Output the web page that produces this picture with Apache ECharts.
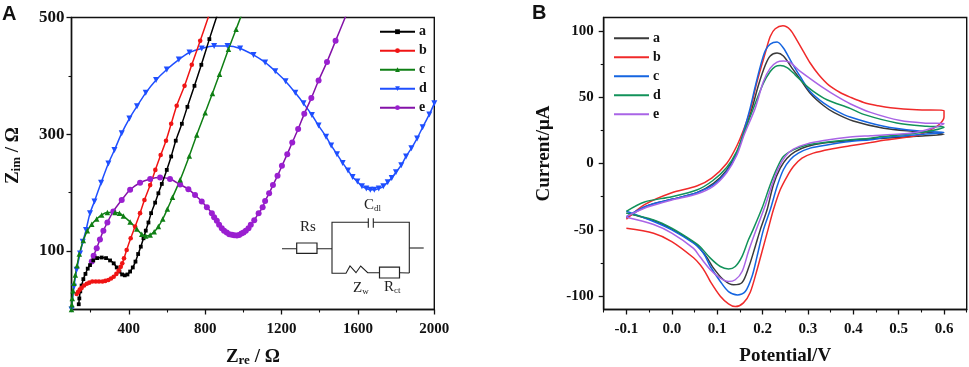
<!DOCTYPE html>
<html><head><meta charset="utf-8">
<style>html,body{margin:0;padding:0;background:#fff}#c{width:969px;height:367px}</style>
<script src="https://cdn.jsdelivr.net/npm/echarts@6/dist/echarts.min.js"></script>
</head><body><div id="c"></div>
<script>
// Panel A: Nyquist curves [Zre, Zim]
const nyqA=[[138,9],[141,19],[146,31],[153,41],[162,52],[173,61],[185,70],[197,76],[214,84],[235,88],[258,89],[281,88],[302,84],[321,79],[337,72],[351,65],[365,60],[379,58.5],[393,60],[407,65],[421,72],[435,82],[449,95],[463,107.6],[477,122],[489,135],[503,149],[517,165],[538,183],[555,199],[573,215],[599,239],[622,262],[646,289],[678,318],[707,347],[744,383],[780,419],[822,463],[862,503]];
const nyqB=[[127,26.6],[134,30],[143,34],[153,37],[166,41],[180,44],[193,46],[209,48],[227,48],[244,48],[262,48],[277,49],[293,50.5],[307,53],[321,56],[335,61],[347,66.5],[358,73],[366,79],[375,87.6],[389,102],[410,122],[433,142],[459,165],[482,187.5],[512,213],[539,239],[567,264.5],[595,289],[622,318],[651,349],[692,383],[730,419],[774,460],[819,503]];
const nyqC=[[100,0],[102,8],[104,19],[108,32],[113,45],[120,59],[129,75],[141,95],[162,118],[183,135],[206,146],[232,155],[258,162],[288,166],[328,166],[351,165],[372,160],[407,150],[442,138],[468,129],[489,126],[512,127.6],[533,133],[555,142],[578,155],[602,172],[629,192],[669,222],[717,263],[756,299],[800,337],[838,370],[875,403],[922,445.5],[962,480],[989,503]];
const nyqD=[[100,0],[113,39],[127,68],[145,96],[159,116],[176,136],[197,165],[220,185],[255,217],[293,250],[325,273],[363,302],[403,327],[443,348],[489,371],[543,393],[599,411],[662,428],[718,440],[782,447],[847,451],[917,451],[983,447],[1053,436],[1114,423],[1167,408],[1221,391],[1272,371],[1315,353],[1359,333],[1394,315],[1433,296],[1460,281],[1490,266],[1520,251],[1548,238],[1572,227],[1597,219],[1621,211],[1644,207],[1665,205],[1686,205],[1709,207],[1733,211],[1756,218],[1777,225],[1799,235],[1827,247],[1852,262],[1880,276],[1910,293],[1939,312],[1974,334],[2000,353]];
const nyqE=[[206,82],[216,92],[232,105],[249,120],[267,135],[288,149],[319,168],[363,187.5],[407,205],[459,217],[512,223.5],[564,226],[616,223.5],[669,214],[712,206],[747,196],[782,185],[809,175],[835,165],[847,158],[861,152],[873,145],[887,139],[899,135],[913,132],[926,129],[940,128],[952,127],[966,126.5],[978,127.5],[990,130],[1001,132],[1013,135],[1027,139],[1039,145],[1057,153],[1080,165],[1101,175],[1114,186],[1135,199],[1155,213],[1179,229],[1202,246],[1230,266],[1256,286],[1287,309],[1319,335],[1356,362],[1394,392],[1438,424],[1483,460],[1537,503]];
// Panel B: cyclic voltammograms [Potential, Current]
const cvA=[[-.1,-41],[-.055,-32],[0,-27],[.055,-22],[.092,-15],[.121,-5],[.143,8],[.16,24],[.177,41.7],[.191,59],[.206,74],[.217,81],[.232,83.2],[.246,81],[.265,71.9],[.283,63.6],[.305,53],[.335,43.5],[.357,38.5],[.4,32],[.467,26.6],[.54,24],[.6,22],[.54,20.5],[.467,19],[.393,17.3],[.335,15.4],[.298,12.8],[.272,9],[.254,4],[.239,-3.5],[.224,-16],[.21,-34.9],[.195,-50],[.184,-62.5],[.169,-78.8],[.155,-89.7],[.136,-91.4],[.114,-87.6],[.092,-78.8],[.077,-70.5],[.0626,-64.5],[.048,-59.5],[0,-49.5],[-.04,-43],[-.1,-37.4]];
const cvB=[[-.1,-42],[-.06,-31],[0,-22],[.055,-17],[.088,-11],[.121,0],[.143,13],[.16,27],[.173,40],[.187,60.5],[.206,83.2],[.217,95.7],[.228,101.5],[.245,103.8],[.261,100.8],[.276,92.7],[.29,84.4],[.305,75.7],[.324,66.8],[.346,59],[.371,53.5],[.393,50],[.423,46],[.455,43.5],[.482,42],[.54,40.5],[.6,40],[.6,35],[.588,29],[.562,24],[.54,21],[.467,17.5],[.438,15.8],[.393,13.3],[.349,10.8],[.312,7.8],[.287,4],[.268,-2.3],[.254,-9.8],[.239,-19.8],[.224,-34.9],[.212,-50],[.202,-62.5],[.188,-80],[.173,-97],[.158,-105],[.14,-107.8],[.125,-105.7],[.107,-100],[.085,-88.9],[.074,-82],[.0626,-76.3],[.048,-71],[0,-58.8],[-.04,-52.5],[-.1,-48.7]];
const cvC=[[-.1,-40],[-.055,-32],[0,-27],[.055,-22],[.092,-16],[.121,-6],[.143,7],[.16,26],[.173,42],[.184,58],[.195,73],[.206,85],[.217,90],[.232,91.5],[.246,87],[.265,75.7],[.283,65.6],[.305,54.3],[.335,45.5],[.364,39.5],[.393,35],[.467,28],[.54,24.6],[.6,23.4],[.54,21.6],[.467,19.5],[.438,17.9],[.393,16.6],[.342,14],[.305,11.6],[.279,7.8],[.261,2.8],[.246,-4.7],[.232,-17.3],[.217,-34.9],[.202,-50],[.188,-70],[.177,-85],[.162,-96.5],[.145,-99],[.125,-96.5],[.107,-88.9],[.085,-77.6],[.074,-70],[.0626,-64.5],[.048,-60],[0,-50],[-.04,-43.7],[-.1,-36]];
const cvD=[[-.1,-36],[-.06,-29],[0,-25],[.055,-20],[.09,-13],[.121,-3],[.143,9],[.16,24],[.18,41.7],[.202,60.6],[.217,69.3],[.228,73],[.239,73.8],[.254,72.3],[.272,66.8],[.29,60.6],[.312,54.3],[.342,48],[.393,41.5],[.423,37],[.496,30.5],[.562,28],[.6,27.4],[.54,22.9],[.467,20.5],[.438,19.1],[.393,17.9],[.335,15.8],[.298,14],[.268,10.3],[.246,5.3],[.232,-3.5],[.217,-16],[.199,-33.6],[.179,-50],[.169,-57.5],[.155,-70],[.14,-77.6],[.125,-79.4],[.107,-77.6],[.085,-71.3],[.0626,-62.7],[.048,-58.8],[0,-48.7],[-.04,-42.5],[-.1,-37.4]];
const cvE=[[-.1,-40],[-.055,-33],[0,-27.5],[.055,-23],[.092,-17],[.121,-7],[.143,6],[.16,22],[.184,41.7],[.202,61.8],[.217,71.9],[.232,76.4],[.246,77.2],[.261,76.1],[.279,70.6],[.305,64],[.335,56.8],[.364,50.5],[.393,45],[.438,38.5],[.504,32.4],[.562,30.4],[.6,30],[.54,23.6],[.467,21.5],[.438,20.9],[.393,19.9],[.335,17.3],[.298,14.8],[.268,10.8],[.25,5.3],[.235,-3.5],[.221,-16],[.204,-33.6],[.186,-50],[.169,-66.3],[.155,-81.4],[.14,-87.6],[.125,-88.9],[.107,-86.4],[.085,-80],[.0626,-70.5],[.048,-64],[0,-52.5],[-.04,-46],[-.1,-40.5]];
// Axis tick values
const aXMajor=[400,800,1200,1600,2000], aXMinor=[200,600,1000,1400,1800];
const aYMajor=[100,300,500], aYMinor=[200,400];
const bXMajor=[-0.1,0,0.1,0.2,0.3,0.4,0.5,0.6], bXMinor=[-0.15,-0.05,0.05,0.15,0.25,0.35,0.45,0.55,0.65];
const bYMajor=[-100,-50,0,50,100], bYMinor=[-75,-25,25,75];

const FF='"Liberation Serif","Times New Roman",serif', INK='#111';
const tickFont={fontFamily:FF,fontWeight:'bold',fontSize:15,color:INK};
const titleRich={z:{fontFamily:FF,fontWeight:'bold',fontSize:19,color:INK},
  s:{fontFamily:FF,fontWeight:'bold',fontSize:13,color:INK,padding:[7,0,0,0]}};

function axis(dim,grid,min,max,major,extra){
  return Object.assign({type:'value',gridIndex:grid,min,max,position:dim==='x'?'bottom':'left',scale:true,
    axisLine:{show:true,onZero:false,lineStyle:{color:INK,width:1.4}},
    axisTick:{show:true,customValues:major,length:5,lineStyle:{color:INK,width:1.3}},
    axisLabel:{show:true,customValues:major,margin:dim==='x'?12.5:7,...tickFont,formatter:v=>String(v)},
    splitLine:{show:false}},extra||{});
}
function minorAxis(dim,grid,min,max,vals){
  return {type:'value',gridIndex:grid,min,max,position:dim==='x'?'bottom':'left',scale:true,
    axisLine:{show:false,onZero:false},axisTick:{show:true,customValues:vals,length:3,lineStyle:{color:INK,width:1.1}},
    axisLabel:{show:false},splitLine:{show:false}};
}
function nyq(name,data,color,symbol,size,extra){
  return Object.assign({name,type:'line',xAxisIndex:0,yAxisIndex:0,data,smooth:0.3,symbol,symbolSize:size,showAllSymbol:true,
    clip:true,lineStyle:{color,width:1.5},itemStyle:{color}},extra||{});
}
function cv(name,data,color){
  return {name,type:'line',xAxisIndex:2,yAxisIndex:2,data,smooth:0.3,symbol:'none',clip:true,
    lineStyle:{color,width:1.5},itemStyle:{color}};
}
function serifText(x,y,rich,text){
  return {type:'text',left:x,top:y,silent:true,style:{text,rich,fontFamily:FF,fontSize:14,fill:'#222'}};
}
const cirRich={b:{fontFamily:FF,fontSize:15,color:'#222'},s:{fontFamily:FF,fontSize:9,color:'#222',padding:[6,0,0,0]}};
const wire={stroke:'#222',lineWidth:1.1,fill:null};
function pl(pts){return {type:'polyline',silent:true,shape:{points:pts},style:wire};}
function box(x,y,w,h){return {type:'rect',silent:true,shape:{x,y,width:w,height:h},style:{stroke:'#222',lineWidth:1.2,fill:'#fff'}};}

const option={
  animation:false,backgroundColor:'#fff',
  grid:[
    {left:71.5,top:17.5,width:362.8,height:292,show:true,borderColor:INK,borderWidth:1.4,containLabel:false,outerBoundsMode:'none'},
    {left:603.7,top:17.5,width:363,height:292,show:true,borderColor:INK,borderWidth:1.4,containLabel:false,outerBoundsMode:'none'}
  ],
  xAxis:[
    axis('x',0,100,2000,aXMajor,{name:'{z|Z}{s|re}{z| / Ω}',nameLocation:'middle',nameGap:37.5,nameTextStyle:{rich:titleRich}}),
    minorAxis('x',0,100,2000,aXMinor),
    axis('x',1,-0.15,0.65,bXMajor,{name:'Potential/V',nameLocation:'middle',nameGap:37.5,
      nameTextStyle:{fontFamily:FF,fontWeight:'bold',fontSize:19,color:INK},
      axisLabel:{show:true,customValues:bXMajor,margin:12.5,...tickFont,formatter:v=>Number(v).toFixed(1)}}),
    minorAxis('x',1,-0.15,0.65,bXMinor)
  ],
  yAxis:[
    axis('y',0,0,500,aYMajor,{name:'{z|Z}{s|im}{z| / Ω}',nameLocation:'middle',nameGap:48,nameRotate:90,nameTextStyle:{rich:titleRich,padding:[0,0,0,16]},
      axisLabel:{show:true,customValues:aYMajor,margin:7,...tickFont,fontSize:17,formatter:v=>String(v)}}),
    minorAxis('y',0,0,500,aYMinor),
    axis('y',1,-110,110,bYMajor,{name:'Current/μA',nameLocation:'middle',nameGap:50,nameRotate:90,
      nameTextStyle:{fontFamily:FF,fontWeight:'bold',fontSize:19,color:INK,padding:[0,0,0,20]},
      axisLabel:{show:true,customValues:bYMajor,margin:10,...tickFont,formatter:v=>String(v)}}),
    minorAxis('y',1,-110,110,bYMinor)
  ],
  legend:[
    {orient:'vertical',left:379,top:24.7,itemWidth:35,itemHeight:6,itemGap:5,padding:0,
     data:['a','b','c','d','e'],selectedMode:false,
     textStyle:{fontFamily:FF,fontWeight:'bold',fontSize:14,color:INK,padding:[0,0,0,-1]}},
    {orient:'vertical',left:613,top:31.3,itemWidth:35,itemHeight:1,itemGap:5,padding:0,
     data:['B a','B b','B c','B d','B e'],selectedMode:false,formatter:n=>n.slice(-1),
     textStyle:{fontFamily:FF,fontWeight:'bold',fontSize:14,color:INK,padding:[0,0,0,-1]}}
  ],
  series:[
    nyq('d',nyqD,'#1f4fff','triangle',6,{symbolRotate:180}),
    nyq('e',nyqE,'#8412a8','circle',6,{itemStyle:{color:'#9a1fd0'}}),
    nyq('a',nyqA,'#000000','rect',3.8),
    nyq('b',nyqB,'#f01414','circle',4.6),
    nyq('c',nyqC,'#0f7f14','triangle',5.5),
    cv('B a',cvA,'#3a3a3a'),
    cv('B b',cvB,'#f02a2a'),
    cv('B c',cvC,'#1565e0'),
    cv('B d',cvD,'#12925a'),
    cv('B e',cvE,'#a964e6')
  ],
  graphic:{elements:[
    {type:'text',left:2,top:4,silent:true,style:{text:'A',fontFamily:'"Liberation Sans",Arial,sans-serif',fontWeight:'bold',fontSize:20,fill:'#111'}},
    {type:'text',left:532,top:3,silent:true,style:{text:'B',fontFamily:'"Liberation Sans",Arial,sans-serif',fontWeight:'bold',fontSize:20,fill:'#111'}},
    pl([[282,248.7],[332,248.7]]),
    pl([[373.3,222.3],[409.3,222.3],[409.3,273]]),
    pl([[368.3,222.3],[332,222.3],[332,273.3],[346,273.3],[350,266],[356,272.7],[360.7,266],[367.7,272.7],[400,272.7],[409.3,273]]),
    pl([[409.3,248],[423.7,248]]),
    pl([[368.3,218.3],[368.3,227.7]]),
    pl([[373.3,218.3],[373.3,227.7]]),
    box(296.7,243,20.3,10.3),
    box(379.5,267.2,20,10.8),
    serifText(300,220,cirRich,'{b|Rs}'),
    serifText(364,198,cirRich,'{b|C}{s|dl}'),
    serifText(353,281,cirRich,'{b|Z}{s|w}'),
    serifText(384,280,cirRich,'{b|R}{s|ct}')
  ]}
};
const chart=echarts.init(document.getElementById('c'),null,{renderer:'canvas'});
chart.setOption(option);
</script></body></html>
